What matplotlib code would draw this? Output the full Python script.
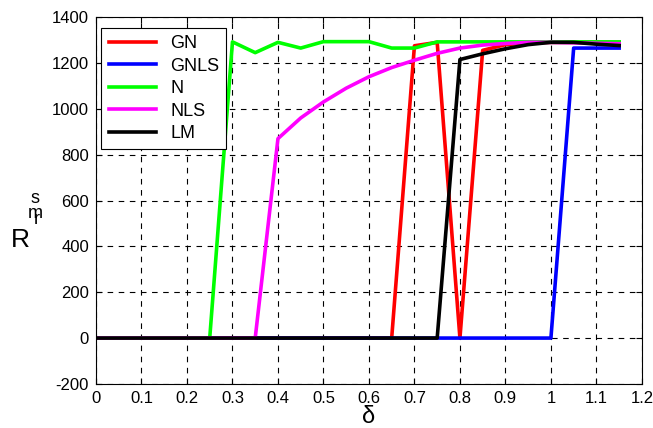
import matplotlib
matplotlib.use('Agg')
import matplotlib.pyplot as plt

plt.rcParams['font.family'] = ['Liberation Sans', 'DejaVu Sans']
plt.rcParams['axes.unicode_minus'] = False

delta = [0.0, 0.05, 0.1, 0.15, 0.2, 0.25, 0.3, 0.35, 0.4, 0.45, 0.5, 0.55,
         0.6, 0.65, 0.7, 0.75, 0.8, 0.85, 0.9, 0.95, 1.0, 1.05, 1.1, 1.15]

gn   = [0, 0, 0, 0, 0, 0, 0, 0, 0, 0, 0, 0,
        0, 0, 1275, 1290, 0, 1255, 1280, 1288, 1290, 1290, 1290, 1290]
gnls = [0, 0, 0, 0, 0, 0, 0, 0, 0, 0, 0, 0,
        0, 0, 0, 0, 0, 0, 0, 0, 0, 1265, 1265, 1265]
n    = [0, 0, 0, 0, 0, 0, 1292, 1245, 1290, 1265, 1293, 1293,
        1293, 1265, 1265, 1292, 1292, 1292, 1292, 1292, 1292, 1292, 1292, 1292]
nls  = [0, 0, 0, 0, 0, 0, 0, 0, 870, 960, 1030, 1090,
        1140, 1180, 1212, 1242, 1265, 1278, 1285, 1290, 1290, 1288, 1286, 1284]
lm   = [0, 0, 0, 0, 0, 0, 0, 0, 0, 0, 0, 0,
        0, 0, 0, 0, 1215, 1240, 1262, 1280, 1290, 1290, 1282, 1276]

fig = plt.figure(figsize=(6.53, 4.28), dpi=100)
ax = fig.add_axes([0.147, 0.103, 0.836, 0.857])

ax.plot(delta, gn, color='#ff0000', lw=2.6, label='GN')
ax.plot(delta, gnls, color='#0000ff', lw=2.6, label='GNLS')
ax.plot(delta, n, color='#00ff00', lw=2.6, label='N')
ax.plot(delta, nls, color='#ff00ff', lw=2.6, label='NLS')
ax.plot(delta, lm, color='black', lw=2.6, label='LM')

ax.set_xlim(0, 1.2)
ax.set_ylim(-200, 1400)
ax.set_xticks([0, 0.1, 0.2, 0.3, 0.4, 0.5, 0.6, 0.7, 0.8, 0.9, 1, 1.1, 1.2])
ax.set_xticklabels(['0', '0.1', '0.2', '0.3', '0.4', '0.5', '0.6', '0.7',
                    '0.8', '0.9', '1', '1.1', '1.2'])
ax.set_yticks(range(-200, 1401, 200))
ax.tick_params(labelsize=12, direction='in', length=4, top=True, right=True, pad=5)
ax.grid(True, color='black', linestyle=(0, (5, 5)), linewidth=0.8)

leg = ax.legend(loc='upper left', bbox_to_anchor=(0.0, 0.985), fontsize=13,
                handlelength=2.6, fancybox=False, framealpha=1,
                edgecolor='black', borderaxespad=0.3, labelspacing=0.3)
leg.get_frame().set_linewidth(0.8)

ax.set_xlabel('δ', fontsize=17, labelpad=0)
fig.text(0.031, 0.44, 'R', fontsize=19, ha='center', va='center')
fig.text(0.054, 0.537, 's', fontsize=13, ha='center', va='center')
fig.text(0.054, 0.502, 'm', fontsize=13, ha='center', va='center')
fig.text(0.056, 0.488, 'r', fontsize=13, ha='center', va='center')

fig.savefig('out.png', dpi=100)
